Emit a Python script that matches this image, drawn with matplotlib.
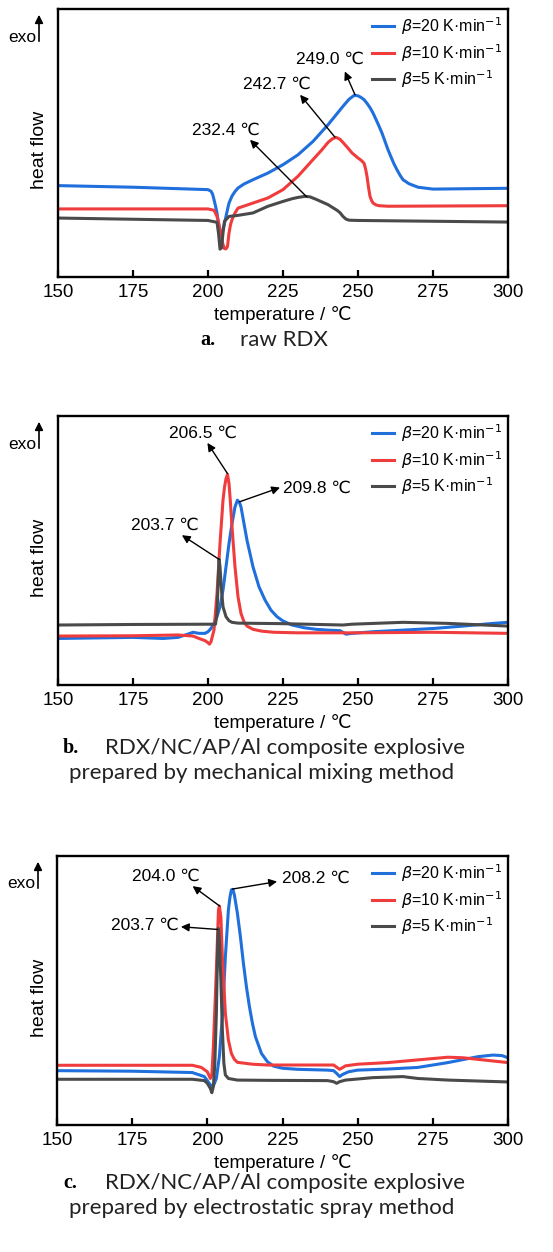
import numpy as np
import matplotlib
matplotlib.use("Agg")
import matplotlib.pyplot as plt
from matplotlib.patches import FancyArrowPatch

# ---- data (heat flow in arbitrary units, 0-100 = axis height) ----
# panel a: raw RDX
a_blue_x = [150, 175, 200, 201, 201.5, 202, 202.5, 203, 203.5, 204, 204.5, 205, 205.5, 206, 206.5, 207, 208,
            209, 210, 212, 215, 220, 225, 230, 235, 240, 245, 247, 248.5, 249, 250, 251, 252, 253, 254, 255,
            256, 257, 258, 259, 260, 261, 262, 263, 264, 265, 267, 270, 275, 300]
a_blue_y = [34.1, 33.5, 32.6, 32.0, 31.0, 28.9, 26.5, 23.9, 20.0, 16.6, 16.2, 17.7, 20.0, 22.6, 25.2, 27.6,
            30.2, 31.9, 33.2, 34.7, 36.3, 38.8, 41.9, 45.6, 50.6, 56.8, 63.7, 66.3, 67.6, 67.8, 67.6, 67.0,
            66.2, 64.8, 63.2, 61.2, 58.8, 56.3, 53.7, 50.6, 47.5, 44.8, 42.2, 40.0, 38.0, 36.3, 34.8, 33.5,
            32.8, 33.1]
a_red_x = [150, 200, 202, 203, 203.5, 204, 204.5, 205, 205.5, 206, 206.5, 207, 207.5, 208, 209, 210, 215,
           220, 225, 230, 235, 238, 240, 241.5, 242.7, 244, 245, 246.5, 248, 250, 251, 252, 252.5, 253, 253.5,
           254, 254.5, 255, 256, 257, 260, 300]
a_red_y = [25.4, 25.4, 24.9, 22.6, 20.5, 17.7, 14.8, 12.1, 10.6, 10.5, 11.4, 16.4, 19.5, 21.4, 23.9, 25.7,
           27.6, 29.5, 32.6, 37.6, 43.8, 47.5, 50.2, 51.6, 52.1, 51.4, 50.2, 48.3, 46.3, 44.4, 43.6, 42.5,
           40.5, 37.6, 33.5, 30.1, 28.6, 27.6, 26.9, 26.6, 26.4, 26.6]
a_gray_x = [150, 200, 203, 203.5, 204, 204.5, 205, 205.5, 207, 210, 215, 220, 225, 228, 230, 232.4, 234,
            236, 238, 240, 242, 243, 244, 245, 246, 247, 250, 300]
a_gray_y = [22.0, 21.1, 20.4, 16.4, 10.4, 10.8, 16.4, 20.8, 22.6, 23.0, 23.9, 26.4, 28.2, 29.2, 29.7, 30.1,
            29.9, 29.0, 28.0, 27.0, 25.6, 24.9, 24.0, 22.6, 21.6, 21.2, 21.1, 20.5]

# panel b: mechanical mixing
b_blue_x = [150, 175, 185, 190, 193, 195, 197, 199, 200, 201, 202, 203, 204, 205, 206, 207, 208, 209, 209.8,
            210.5, 211, 212, 213, 215, 217, 219, 221, 223, 225, 228, 232, 236, 240, 244, 246, 248, 255, 265,
            275, 285, 295, 300]
b_blue_y = [17.3, 17.7, 17.3, 17.7, 18.8, 19.6, 19.2, 19.2, 19.8, 21.0, 22.9, 25.4, 29.1, 35.3, 43.9, 52.6,
            60.0, 66.2, 68.7, 67.8, 66.2, 60.0, 53.8, 43.9, 36.5, 31.6, 27.8, 25.4, 23.8, 22.3, 21.3, 20.7,
            20.4, 20.2, 18.9, 19.2, 19.8, 20.4, 21.0, 21.9, 22.9, 23.3]
b_red_x = [150, 175, 190, 195, 197, 199, 200, 200.5, 201, 202, 203, 204, 205, 205.5, 206, 206.5, 207, 207.5,
           208, 209, 210, 211, 212, 213, 215, 218, 222, 230, 250, 275, 300]
b_red_y = [18.2, 18.3, 18.6, 18.2, 17.3, 16.5, 15.7, 15.2, 16.1, 20.4, 34.0, 52.6, 68.7, 73.5, 76.7, 78.3,
           74.9, 67.5, 58.8, 43.9, 32.8, 26.6, 23.5, 21.9, 20.7, 20.0, 19.6, 19.4, 19.4, 19.6, 19.2]
b_gray_x = [150, 175, 200, 202.5, 203, 203.5, 203.7, 204, 204.5, 205, 206, 207, 208, 210, 225, 245, 248,
            265, 280, 300]
b_gray_y = [22.3, 22.5, 22.6, 22.6, 26.6, 41.5, 46.7, 43.9, 35.3, 29.1, 25.4, 23.9, 23.3, 23.0, 22.8, 22.3,
            22.6, 23.3, 22.9, 21.9]

# panel c: electrostatic spray
c_blue_x = [150, 175, 195, 199, 200, 201, 202, 203, 204, 205, 206, 207, 207.5, 208, 208.5, 209, 210, 211,
            212, 213, 214, 215, 216, 218, 220, 222, 225, 230, 240, 242, 243, 244, 245, 247, 250, 260, 270,
            280, 290, 295, 298, 300]
c_blue_y = [20.2, 20.0, 19.5, 18.0, 16.5, 14.9, 14.5, 17.3, 25.4, 40.3, 62.6, 79.9, 84.5, 87.4, 87.6, 85.5,
            78.7, 70.0, 60.1, 51.4, 44.0, 37.8, 32.8, 26.6, 23.5, 21.9, 21.1, 20.7, 20.4, 20.2, 19.2, 18.0,
            18.8, 19.8, 20.4, 20.8, 21.4, 23.2, 25.4, 26.0, 25.8, 25.0]
c_red_x = [150, 195, 198, 200, 201, 201.5, 202, 203, 203.7, 204, 204.5, 205, 206, 207, 208, 209, 210, 215,
           220, 230, 242, 244, 246, 250, 260, 270, 280, 285, 290, 300]
c_red_y = [22.2, 22.2, 21.4, 19.8, 17.3, 18.6, 29.1, 57.6, 79.9, 81.4, 77.4, 62.6, 41.5, 31.6, 26.6, 24.4,
           23.3, 22.6, 22.3, 22.3, 22.3, 20.7, 22.0, 22.6, 23.2, 24.2, 25.2, 25.0, 24.4, 23.2]
c_gray_x = [150, 195, 199, 200, 201, 201.5, 202, 202.5, 203, 203.5, 203.7, 204, 204.5, 205, 205.5, 206,
            207, 210, 220, 240, 242, 243, 244, 246, 255, 265, 270, 280, 300]
c_gray_y = [17.0, 17.0, 16.5, 15.5, 13.6, 12.0, 14.3, 22.9, 41.5, 70.0, 73.1, 68.8, 53.9, 35.3, 22.9, 18.6,
            17.3, 16.7, 16.6, 16.5, 16.1, 15.5, 16.1, 16.7, 17.6, 18.0, 17.3, 16.7, 16.0]

legend_labels = [r'$\beta$=20 K·min$^{-1}$', r'$\beta$=10 K·min$^{-1}$', r'$\beta$=5 K·min$^{-1}$']

# annotations: (text, peak xy, arrow head xy, text xy, ha)
a_notes = [("249.0 ℃", (249.0, 68.0), (245.6, 76.7), (240.6, 81.1), "center"),
           ("242.7 ℃", (242.3, 52.2), (230.7, 68.0), (222.9, 71.8), "center"),
           ("232.4 ℃", (232.9, 29.9), (214.0, 51.2), (205.9, 54.7), "center")]
b_notes = [("206.5 ℃", (206.5, 78.6), (199.8, 90.0), (198.2, 93.7), "center"),
           ("209.8 ℃", (210.5, 68.1), (224.0, 73.4), (225.1, 73.0), "left"),
           ("203.7 ℃", (203.7, 46.7), (191.3, 55.7), (185.7, 59.4), "center")]
c_notes = [("204.0 ℃", (204.1, 81.4), (195.1, 88.8), (186.2, 92.3), "center"),
           ("208.2 ℃", (208.3, 87.7), (223.2, 90.5), (224.7, 91.9), "left"),
           ("203.7 ℃", (203.4, 72.7), (191.2, 73.7), (190.6, 74.3), "right")]

captions = [("a.", ["raw RDX"]),
            ("b.", ["RDX/NC/AP/Al composite explosive", "prepared by mechanical mixing method"]),
            ("c.", ["RDX/NC/AP/Al composite explosive", "prepared by electrostatic spray method"])]

plt.rcParams['font.family'] = ['Liberation Sans', 'DejaVu Sans']
plt.rcParams['mathtext.fontset'] = 'dejavusans'
fs, fa, fl = 13.5, 12.5, 11.5

blue, red, gray = '#1f6fdc', '#f03c3c', '#4a4a4a'

W, H = 553, 1252
fig = plt.figure(figsize=(W / 100, H / 100), dpi=100)


def fx(px):
    return px / W


def fy(py):
    return 1 - py / H


panels = [
    (9, 277, 58, (a_blue_x, a_blue_y), (a_red_x, a_red_y), (a_gray_x, a_gray_y), a_notes),
    (416, 685, 58, (b_blue_x, b_blue_y), (b_red_x, b_red_y), (b_gray_x, b_gray_y), b_notes),
    (856, 1125, 57, (c_blue_x, c_blue_y), (c_red_x, c_red_y), (c_gray_x, c_gray_y), c_notes),
]

for i, (top, bot, left, bl, rd, gr, notes) in enumerate(panels):
    ax = fig.add_axes([fx(left), fy(bot), fx(508 - left), (bot - top) / H])
    ax.plot(*bl, color=blue, lw=2.2, label=legend_labels[0])
    ax.plot(*rd, color=red, lw=2.2, label=legend_labels[1])
    ax.plot(*gr, color=gray, lw=2.2, label=legend_labels[2])
    ax.set_xlim(150, 300)
    ax.set_ylim(0, 100)
    ax.set_xticks([150, 175, 200, 225, 250, 275, 300])
    ax.set_yticks([])
    ax.tick_params(axis='x', direction='in', length=5, width=1.6, labelsize=fs, pad=5)
    for s in ax.spines.values():
        s.set_linewidth(1.7)
    ax.legend(loc='upper right', frameon=False, fontsize=fl, handlelength=1.4,
              handletextpad=0.4, labelspacing=0.3, borderaxespad=0.1, borderpad=0.3)
    for t, xy, head, txy, ha in notes:
        ax.annotate('', xy=head, xytext=xy,
                    arrowprops=dict(arrowstyle='-|>', color='black', lw=1.0,
                                    mutation_scale=12, shrinkA=0, shrinkB=0))
        ax.text(txy[0], txy[1], t, ha=ha, va='center', fontsize=fa)
    ax.set_xlabel('temperature / ℃', fontsize=fs, labelpad=4)

    # exo arrow + heat flow label
    fig.text(fx(left - 22), fy(top + 28), 'exo', ha='right', va='center', fontsize=fa)
    fig.patches.append(FancyArrowPatch(
        (fx(left - 19), fy(top + 35)), (fx(left - 19), fy(top + 3)),
        transform=fig.transFigure, arrowstyle='-|>', mutation_scale=12, lw=1.2, color='black'))
    fig.text(fx(40), fy((top + bot) / 2 + 7), 'heat flow', rotation=90, ha='center', va='center',
             fontsize=fs + 0.5)

# captions
cap_rows = [(340,), (748, 773), (1183, 1208)]
cap_font = ['Lato', 'DejaVu Sans']
for (lab, lines), ys in zip(captions, cap_rows):
    if len(lines) == 1:
        fig.text(fx(200), fy(ys[0]), lab, ha='left', va='center', fontsize=14.5,
                 family='Liberation Serif', weight='bold')
        fig.text(fx(240), fy(ys[0]), lines[0], ha='left', va='center', fontsize=16,
                 family=cap_font, color='#222222')
    else:
        fig.text(fx(63), fy(ys[0]), lab, ha='left', va='center', fontsize=14.5,
                 family='Liberation Serif', weight='bold')
        fig.text(fx(105), fy(ys[0]), lines[0], ha='left', va='center', fontsize=16,
                 family=cap_font, color='#222222')
        fig.text(fx(262), fy(ys[1]), lines[1], ha='center', va='center', fontsize=16,
                 family=cap_font, color='#222222')

fig.savefig('out.png', dpi=100)
